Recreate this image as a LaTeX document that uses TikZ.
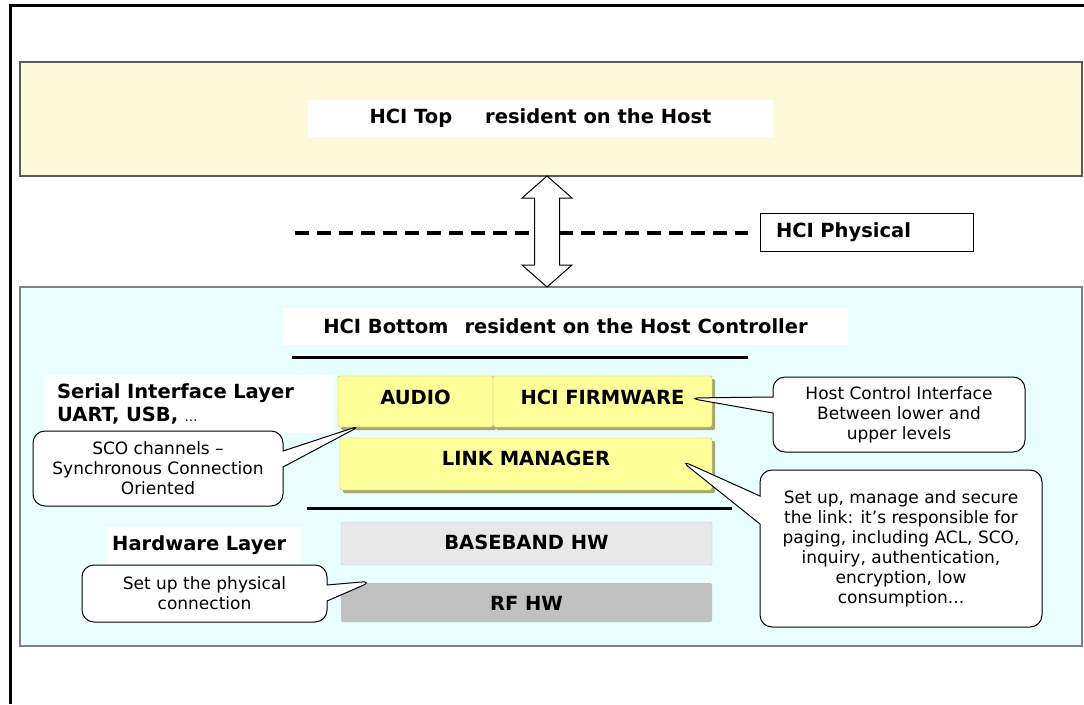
\documentclass[tikz,border=0pt]{standalone}
\usepackage{fontspec}
\setmainfont{DejaVu Sans}
\usepackage{tikz}
\usetikzlibrary{calc,positioning,shapes,shapes.callouts,shadows}
\definecolor{hostfill}{HTML}{FFF9DB}
\definecolor{ctrlfill}{HTML}{E9FEFE}
\definecolor{chipfill}{HTML}{FFFF99}
\definecolor{chipedge}{HTML}{B8B880}
\definecolor{chipshadow}{HTML}{A6A66A}
\definecolor{bbfill}{HTML}{E8E8E8}
\definecolor{bbedge}{HTML}{C8C8C8}
\definecolor{rffill}{HTML}{C0C0C0}
\definecolor{boxedge}{HTML}{5A5A5A}

\begin{document}
\begin{tikzpicture}[x=1pt,y=-1pt]
\tikzstyle{layer}=[rectangle, draw=boxedge, line width=1.2pt, inner sep=0pt]
\tikzstyle{tag}=[rectangle, fill=white, inner sep=0pt, font=\bfseries\fontsize{19.5}{23}\selectfont]
\tikzstyle{chip}=[rectangle, inner sep=0pt, rounded corners=1.5pt, font=\bfseries\fontsize{19.5}{23}\selectfont, text height=15pt, text depth=0pt]
\tikzstyle{chipshade}=[drop shadow={shadow xshift=3pt, shadow yshift=-3pt, fill=chipshadow, opacity=1}]
\tikzstyle{bubble}=[rectangle callout, draw=black, fill=white, line width=1pt, rounded corners=12pt, callout pointer width=16pt, align=center, font=\fontsize{17}{20}\selectfont, inner sep=0pt]

\useasboundingbox (0,0) rectangle (1084,704);

% outer frame
\draw[line width=3pt] (1084,5) -- (10,5) -- (10,704);

% host and controller layers
\node[layer, fill=hostfill, minimum width=1062pt, minimum height=114pt] (hostbox) at (551,119) {};
\node[layer, fill=ctrlfill, draw=gray, minimum width=1062pt, minimum height=359pt] (ctrlbox) at (551,466.5) {};
\node[tag, minimum width=465pt, minimum height=37pt] (toptag) at (540.5,118.5) {HCI Top\hspace{33pt}resident on the Host};
\node[tag, minimum width=565pt, minimum height=37pt] (bottag) at (565.5,326.5) {HCI Bottom\hspace{16pt}resident on the Host Controller};

% physical link
\node[tag, draw, line width=1pt, minimum width=213pt, minimum height=38pt, text width=181pt, align=left] (phys) at (866.5,232) {HCI Physical};
\coordinate (dashstart) at (295,233);
\draw[line width=4pt, dash pattern=on 14pt off 8pt] (dashstart) -- ($(phys.west)+(-12,1)$);
\coordinate (linktop) at (547,176);
\coordinate (linkbot) at (547,287);
\draw[line width=1pt, fill=white] (linktop) -- ($(linktop)+(25,22)$) -- ($(linktop)+(12.5,22)$)
  -- ($(linkbot)+(12.5,-22)$) -- ($(linkbot)+(25,-22)$) -- (linkbot)
  -- ($(linkbot)+(-25,-22)$) -- ($(linkbot)+(-12.5,-22)$)
  -- ($(linktop)+(-12.5,22)$) -- ($(linktop)+(-25,22)$) -- cycle;

\draw[line width=3pt] (292,357) -- (748,357);

% side labels
\node[tag, anchor=north west, minimum width=288pt, minimum height=58pt, text width=264pt, align=left] (sertag) at (45,375) {Serial Interface Layer\\UART, USB, {\mdseries\fontsize{13}{23}\selectfont …}};
\node[tag, anchor=north west, minimum width=194pt, minimum height=36pt, text width=184pt, align=left] (hwtag) at (107,527) {Hardware Layer};

% stack
\node[chip, chipshade, fill=chipfill, draw=chipedge, minimum width=155pt, minimum height=51pt, text depth=10pt] (audio) at (415.5,401.5) {AUDIO};
\node[chip, chipshade, fill=chipfill, draw=chipedge, minimum width=219pt, minimum height=51pt, text depth=10pt] (firmware) at (602.5,401.5) {HCI FIRMWARE};
\node[chip, chipshade, fill=chipfill, draw=chipedge, minimum width=372pt, minimum height=52pt, text depth=12pt] (linkmgr) at (526,464) {LINK MANAGER};
\draw[line width=3pt] (307,508) -- (732,508);
\node[chip, fill=bbfill, draw=bbedge, minimum width=371pt, minimum height=43pt, text depth=4pt] (baseband) at (526.5,543.5) {BASEBAND HW};
\node[chip, fill=rffill, minimum width=371pt, minimum height=39pt] (rf) at (526.5,602.5) {RF HW};

% callouts
\coordinate (scotip) at (362,425);
\coordinate (hcitip) at (688,398);
\coordinate (lmtip) at (680,460);
\coordinate (phytip) at (373,581);
\node[bubble, minimum width=250pt, minimum height=75pt, callout absolute pointer=(scotip)] (scocall) at (158,468.5) {SCO channels –\\Synchronous Connection\\Oriented};
\node[bubble, minimum width=252pt, minimum height=75pt, callout absolute pointer=(hcitip)] (hcicall) at (899,414.5) {Host Control Interface\\Between lower and\\upper levels};
\node[bubble, minimum width=282pt, minimum height=157pt, callout pointer width=28pt, callout absolute pointer=(lmtip)] (lmcall) at (901,548.5) {Set up, manage and secure\\the link: it’s responsible for\\paging, including ACL, SCO,\\inquiry, authentication,\\encryption, low\\consumption...};
\node[bubble, minimum width=245pt, minimum height=57pt, callout absolute pointer=(phytip)] (phycall) at (204.5,593.5) {Set up the physical\\connection};
\end{tikzpicture}
\end{document}
